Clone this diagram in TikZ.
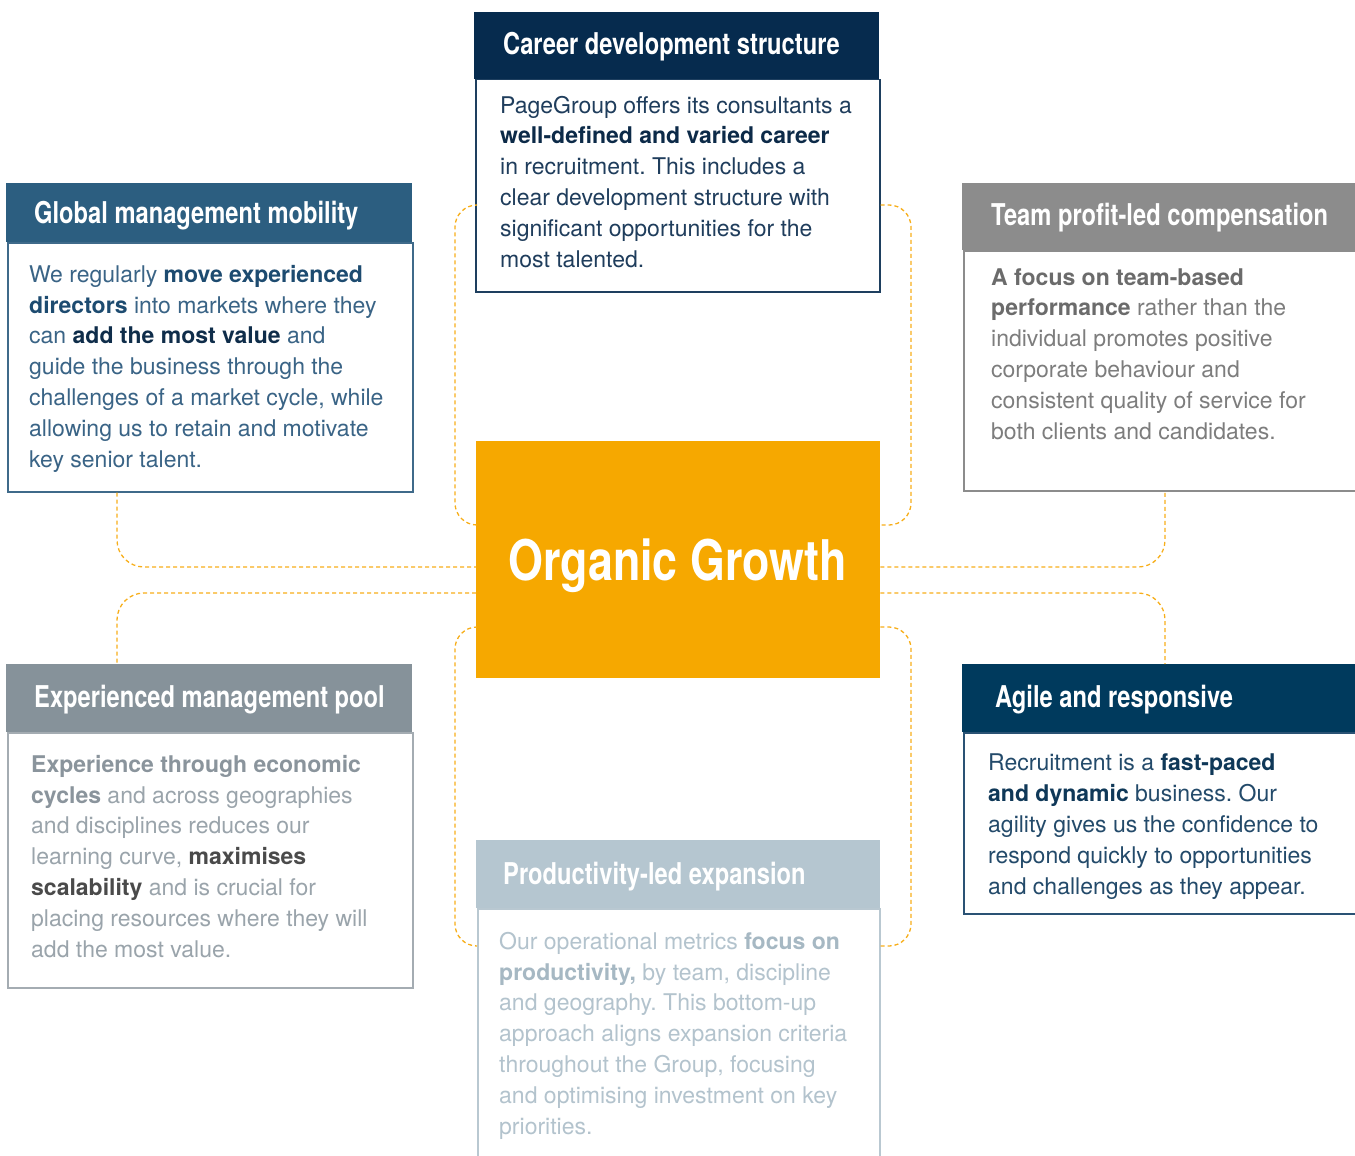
\documentclass[tikz,border=0pt]{standalone}
\usepackage{fontspec}
\setmainfont{TeX Gyre Heros}
\newfontfamily\headfont[FakeStretch=0.79]{TeX Gyre Heros}
\newfontfamily\bigfont[FakeStretch=0.8]{TeX Gyre Heros}
\frenchspacing

% palette
\definecolor{orangeG}{HTML}{F6A800}
\definecolor{dashc}{HTML}{F7AE1A}
\definecolor{cdsHead}{HTML}{062B4E}
\definecolor{cdsLine}{HTML}{1E3F5F}
\definecolor{cdsText}{HTML}{1F3D5C}
\definecolor{cdsBold}{HTML}{0C2A48}
\definecolor{gmmHead}{HTML}{2C5E80}
\definecolor{gmmLine}{HTML}{3F6A8A}
\definecolor{gmmText}{HTML}{3A6486}
\definecolor{gmmBoldA}{HTML}{1D4B70}
\definecolor{gmmBoldB}{HTML}{0F2D4A}
\definecolor{tpcHead}{HTML}{8C8C8C}
\definecolor{tpcLine}{HTML}{8C8C8C}
\definecolor{tpcText}{HTML}{7D7D7D}
\definecolor{tpcBold}{HTML}{6B6B6B}
\definecolor{empHead}{HTML}{86929A}
\definecolor{empLine}{HTML}{A4ACB2}
\definecolor{empText}{HTML}{9AA4AB}
\definecolor{empBoldA}{HTML}{8A949C}
\definecolor{empBoldB}{HTML}{4A4A4A}
\definecolor{agrHead}{HTML}{003A5D}
\definecolor{agrLine}{HTML}{2A5274}
\definecolor{agrText}{HTML}{234A6A}
\definecolor{agrBold}{HTML}{0F3858}
\definecolor{pleHead}{HTML}{B5C6D0}
\definecolor{pleLine}{HTML}{B9C8D1}
\definecolor{pleText}{HTML}{B3C3CD}
\definecolor{pleBold}{HTML}{A6B8C3}

\newcommand{\keyphrase}[2]{{\bfseries\color{#1}#2}}

\begin{document}
\begin{tikzpicture}[x=1pt,y=-1pt,
  boxhdr/.style={rectangle, draw=none, inner sep=0, anchor=north west},
  boxbody/.style={rectangle, fill=white, inner sep=0, anchor=north west, line width=1.5pt},
  ttl/.style={anchor=base west, inner sep=0, text=white, font=\fontsize{30}{36}\headfont\bfseries},
  % text blocks are placed by the baseline of their last line
  txt/.style={anchor=base west, inner sep=0, align=left, font=\fontsize{23}{30.8}\selectfont},
  conn/.style={draw=dashc, line width=1.3pt, dash pattern=on 4pt off 3pt}]

\useasboundingbox (0,0) rectangle (1355,1156);

% ---- centre block ----
\node[boxhdr, fill=orangeG, minimum width=404, minimum height=237] (og) at (476,441) {};
\node[anchor=base, inner sep=0, text=white, font=\fontsize{56}{60}\bigfont\bfseries] (ogT) at (677.5,580) {Organic Growth};

% ---- career development structure ----
\node[boxbody, draw=cdsLine, minimum width=404, minimum height=212] (cdsB) at (475,79) {};
\node[boxhdr, fill=cdsHead, minimum width=405, minimum height=67] (cdsH) at (474.25,12) {};
\node[ttl] (cdsT) at (503,55) {Career development structure};
\node[txt, text=cdsText] (cdsX) at (500,267) {PageGroup offers its consultants a\\
\keyphrase{cdsBold}{well-defined and varied career}\\
in recruitment. This includes a\\
clear development structure with\\
significant opportunities for the\\
most talented.};

% ---- global management mobility ----
\node[boxbody, draw=gmmLine, minimum width=405, minimum height=249] (gmmB) at (7,242) {};
\node[boxhdr, fill=gmmHead, minimum width=406, minimum height=59] (gmmH) at (6.25,183) {};
\node[ttl] (gmmT) at (34,223) {Global management mobility};
\node[txt, text=gmmText] (gmmX) at (29,467) {We regularly \keyphrase{gmmBoldA}{move experienced}\\
\keyphrase{gmmBoldA}{directors} into markets where they\\
can \keyphrase{gmmBoldB}{add the most value} and\\
guide the business through the\\
challenges of a market cycle, while\\
allowing us to retain and motivate\\
key senior talent.};

% ---- team profit-led compensation ----
\node[boxbody, draw=tpcLine, minimum width=420, minimum height=240] (tpcB) at (963,250) {};
\node[boxhdr, fill=tpcHead, minimum width=420, minimum height=67] (tpcH) at (962.25,183) {};
\node[ttl] (tpcT) at (991,225) {Team profit-led compensation};
\node[txt, text=tpcText] (tpcX) at (991,439) {\keyphrase{tpcBold}{A focus on team-based}\\
\keyphrase{tpcBold}{performance} rather than the\\
individual promotes positive\\
corporate behaviour and\\
consistent quality of service for\\
both clients and candidates.};

% ---- experienced management pool ----
\node[boxbody, draw=empLine, minimum width=405, minimum height=255] (empB) at (7,732) {};
\node[boxhdr, fill=empHead, minimum width=406, minimum height=68] (empH) at (6.25,664) {};
\node[ttl] (empT) at (34,707) {Experienced management pool};
\node[txt, text=empText] (empX) at (31,957) {\keyphrase{empBoldA}{Experience through economic}\\
\keyphrase{empBoldA}{cycles} and across geographies\\
and disciplines reduces our\\
learning curve, \keyphrase{empBoldB}{maximises}\\
\keyphrase{empBoldB}{scalability} and is crucial for\\
placing resources where they will\\
add the most value.};

% ---- agile and responsive ----
\node[boxbody, draw=agrLine, minimum width=420, minimum height=181] (agrB) at (963,732) {};
\node[boxhdr, fill=agrHead, minimum width=420, minimum height=68] (agrH) at (962.25,664) {};
\node[ttl] (agrT) at (995,707) {Agile and responsive};
\node[txt, text=agrText] (agrX) at (988,894) {Recruitment is a \keyphrase{agrBold}{fast-paced}\\
\keyphrase{agrBold}{and dynamic} business. Our\\
agility gives us the confidence to\\
respond quickly to opportunities\\
and challenges as they appear.};

% ---- productivity-led expansion ----
\node[boxbody, draw=pleLine, minimum width=402, minimum height=270] (pleB) at (477,908) {};
\node[boxhdr, fill=pleHead, minimum width=404, minimum height=68] (pleH) at (476,840) {};
\node[ttl] (pleT) at (503,884) {Productivity-led expansion};
\node[txt, text=pleText] (pleX) at (499,1134) {Our operational metrics \keyphrase{pleBold}{focus on}\\
\keyphrase{pleBold}{productivity,} by team, discipline\\
and geography. This bottom-up\\
approach aligns expansion criteria\\
throughout the Group, focusing\\
and optimising investment on key\\
priorities.};

% ---- guide lines for the dashed connectors ----
\coordinate (xL)  at (117,0);
\coordinate (xR)  at (1165,0);
\coordinate (yU)  at (0,567);
\coordinate (yD)  at (0,593);
\coordinate (xLb) at (455,0);
\coordinate (xRb) at (911,0);
\coordinate (yT)  at (0,205);
\coordinate (yOa) at (0,525);
\coordinate (yOb) at (0,627);
\coordinate (yB)  at (0,946);

% ---- dashed connectors ----
\draw[conn, rounded corners=27pt] (gmmB.south -| xL) |- (og.west |- yU);
\draw[conn, rounded corners=27pt] (og.west |- yD) -| (empH.north -| xL);
\draw[conn, rounded corners=27pt] (og.east |- yU) -| (tpcB.south -| xR);
\draw[conn, rounded corners=27pt] (og.east |- yD) -| (agrH.north -| xR);
\draw[conn, rounded corners=22pt] (cdsB.west |- yT) -- (xLb |- yT) -- (xLb |- yOa) -- (og.west |- yOa);
\draw[conn, rounded corners=22pt] (cdsB.east |- yT) -- (xRb |- yT) -- (xRb |- yOa) -- (og.east |- yOa);
\draw[conn, rounded corners=22pt] (og.west |- yOb) -- (xLb |- yOb) -- (xLb |- yB) -- (pleB.west |- yB);
\draw[conn, rounded corners=22pt] (og.east |- yOb) -- (xRb |- yOb) -- (xRb |- yB) -- (pleB.east |- yB);

\end{tikzpicture}
\end{document}
